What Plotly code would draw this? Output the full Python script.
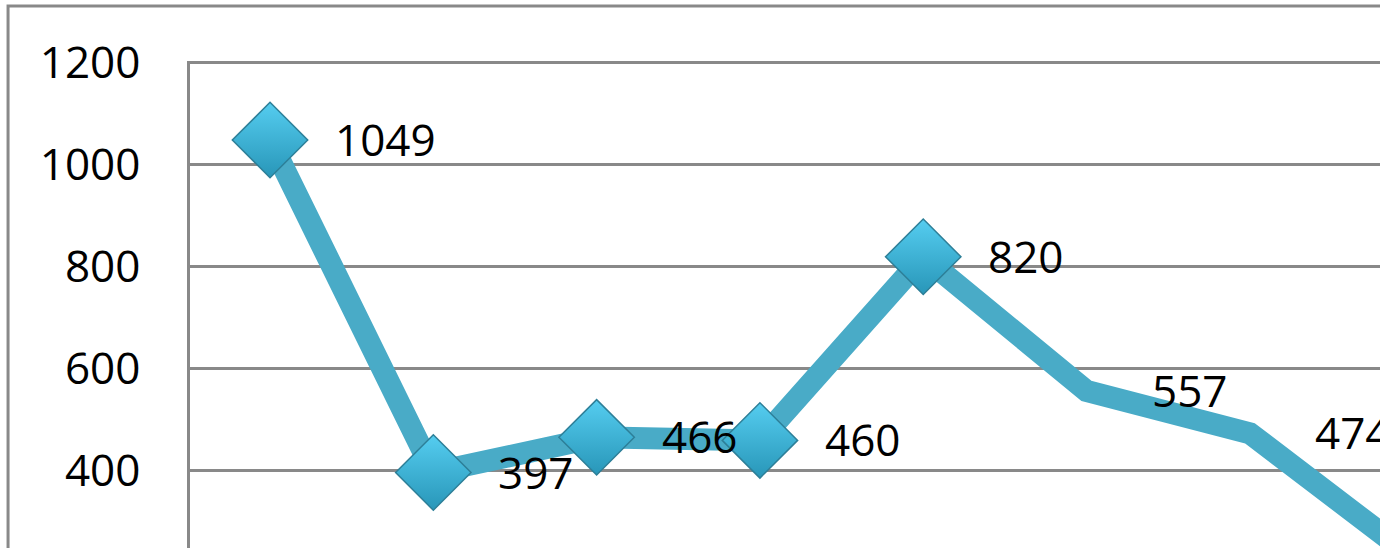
import plotly.graph_objects as go

categories = [0, 1, 2, 3, 4, 5, 6, 7]
values = [1049, 397, 466, 460, 820, 557, 474, 230]
has_marker = [True, True, True, True, True, False, False, False]
tick_vals = [400, 600, 800, 1000, 1200]

mx = [c for c, m in zip(categories, has_marker) if m]
my = [v for v, m in zip(values, has_marker) if m]

fig = go.Figure()
fig.add_trace(go.Scatter(
    x=categories, y=values, mode="lines",
    line=dict(color="#49abc7", width=22),
    hoverinfo="skip", showlegend=False,
))
fig.add_trace(go.Scatter(
    x=mx, y=my, mode="markers",
    marker=dict(symbol="diamond", size=58, color="#55cdf0",
                gradient=dict(type="vertical", color="#2896b8"),
                line=dict(color="#2d7f98", width=1.5)),
    hoverinfo="skip", showlegend=False,
))

annotations = [
    dict(x=c, y=v, xref="x", yref="y", text=str(v), showarrow=False,
         xanchor="left", yanchor="middle", xshift=63, yshift=1,
         font=dict(family="Open Sans", size=44, color="#000000"))
    for c, v in zip(categories, values)
]

fig.update_layout(
    width=1380, height=548,
    margin=dict(l=190, r=0, t=61, b=0),
    paper_bgcolor="white", plot_bgcolor="white",
    hovermode=False,
    xaxis=dict(range=[-0.49, 6.797], showgrid=False, showticklabels=False,
               zeroline=False, showline=False),
    yaxis=dict(range=[249.0, 1203.9], tickvals=tick_vals,
               showgrid=True, gridcolor="#898989", gridwidth=2.5,
               zeroline=False, showline=True, linecolor="#898989", linewidth=2.5,
               ticks="", ticklabelstandoff=38,
               tickfont=dict(family="Open Sans", size=44, color="#000000")),
    annotations=annotations,
    shapes=[dict(type="rect", xref="paper", yref="paper",
                 x0=-0.1529, x1=1.2, y0=-0.2, y1=1.1129,
                 line=dict(color="#898989", width=3), layer="below")],
)

fig.write_html("out.html", config={"displayModeBar": False},
               post_script="document.body.style.margin='0px';")
